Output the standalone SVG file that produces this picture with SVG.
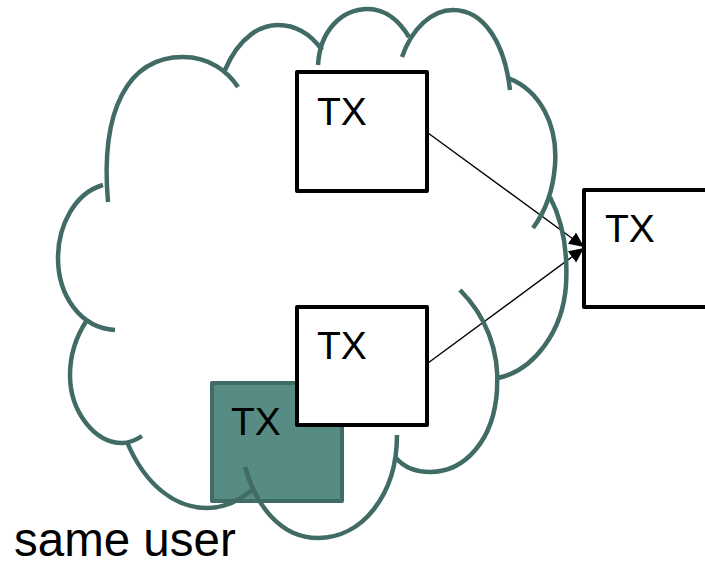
<svg xmlns="http://www.w3.org/2000/svg" width="705" height="562" viewBox="0 0 705 562">
<style>
.box{fill:#ffffff;stroke:#000000;stroke-width:4;stroke-linejoin:round}
.user{fill:#568c84;stroke:#416b65;stroke-width:4;stroke-linejoin:round}
.lbl{font-family:"Liberation Sans",Arial,sans-serif;font-size:39px;fill:#000000}
.cloud{fill:none;stroke:#416b65;stroke-width:4.5}
.conn{stroke:#000000;stroke-width:1.4;fill:none}
</style>
<defs>
<marker id="ah" markerUnits="userSpaceOnUse" markerWidth="16" markerHeight="14" refX="15" refY="7" orient="auto">
<path d="M0,0 L15,7 L0,14 Z" fill="#000000"/>
</marker>
</defs>
<rect width="705" height="562" fill="#ffffff"/>
<g id="tx-user">
<rect class="user" x="212" y="383" width="130" height="118"/>
<text class="lbl" x="231" y="435">TX</text>
</g>
<g id="connectors">
<line class="conn" x1="428" y1="133" x2="584" y2="247" marker-end="url(#ah)"/>
<line class="conn" x1="428" y1="363" x2="584" y2="248" marker-end="url(#ah)"/>
</g>
<g id="cloud" class="cloud">
<path d="M108,202 C100,110 128,57 183,57 C210,57 228,72 238,87"/>
<path d="M225,70 C240,35 262,25 278,25 C298,25 312,36 322,50"/>
<path d="M318,65 C320,30 342,9 368,9 C386,9 400,22 409,37"/>
<path d="M402,57 C412,28 432,10 453,10 C485,10 505,45 510,90"/>
<path d="M508,78 C540,90 558,125 555,165 C553,192 545,212 533,228"/>
<path d="M550,197 C562,220 568,250 566,285 C563,330 535,370 498,378"/>
<path d="M460,290 C485,315 500,350 497,390 C494,440 465,472 430,472 C415,472 403,466 396,458"/>
<path d="M397,435 C397,495 362,538 318,538 C280,538 256,505 245,467"/>
<path d="M127,442 C145,485 175,508 207,508 C225,508 240,500 252,490"/>
<path d="M87,320 C75,338 70,355 70,375 C70,412 95,443 122,443 C130,443 136,440 142,436"/>
<path d="M103,185 C75,193 58,225 58,258 C58,295 80,328 115,330"/>
</g>
<g id="tx-top">
<rect class="box" x="297" y="72" width="130" height="119"/>
<text class="lbl" x="317" y="125">TX</text>
</g>
<g id="tx-bottom">
<rect class="box" x="297" y="307" width="130" height="118"/>
<text class="lbl" x="317" y="359">TX</text>
</g>
<g id="tx-right">
<rect class="box" x="584" y="190" width="125" height="117"/>
<text class="lbl" x="605" y="242">TX</text>
</g>
<g id="caption">
<text x="14" y="556" style="font-family:'Liberation Sans',Arial,sans-serif;font-size:47.5px;fill:#000000">same user</text>
</g>
</svg>
